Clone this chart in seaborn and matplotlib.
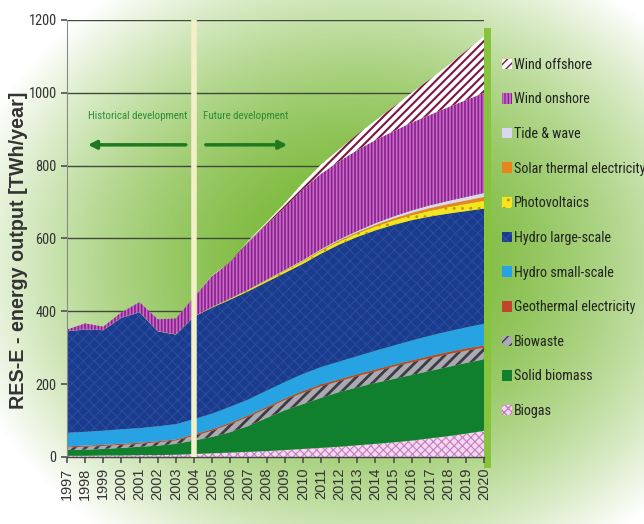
import numpy as np
import pandas as pd
import matplotlib
matplotlib.use("Agg")
import matplotlib.pyplot as plt
import seaborn as sns
from matplotlib.patches import Patch, Rectangle
from matplotlib import font_manager

# Data (TWh/year), stacked bottom -> top
years = list(range(1997, 2021))
biogas = [3, 3, 4, 4, 5, 5, 6, 8, 10, 12, 14, 16, 19, 22, 25, 28, 32, 36, 40, 45, 51, 57, 64, 72]
solid_biomass = [16, 17, 18, 21, 23, 26, 30, 37, 45, 56, 71, 91, 109, 123, 137, 150, 159, 167, 174, 180, 185, 190, 194, 196]
biowaste = [7, 8, 8, 8, 8, 9, 9, 13, 17, 22, 25, 26, 28, 31, 32, 30, 31, 32, 34, 35, 35, 35, 34, 32]
geothermal = [3, 3, 3, 3, 3, 3, 3, 4, 4, 4, 4, 4, 4, 5, 5, 5, 5, 5, 5, 5, 6, 6, 6, 6]
hydro_small = [37, 38, 39, 40, 40, 41, 42, 42, 43, 44, 44, 45, 46, 47, 48, 49, 50, 52, 53, 55, 56, 57, 58, 60]
hydro_large = [279, 281, 276, 306, 318, 261, 246, 281, 291, 294, 297, 298, 299, 302, 311, 321, 327, 330, 331, 330, 327, 323, 319, 316]
photovoltaics = [0.1, 0.1, 0.1, 0.2, 0.3, 0.4, 0.5, 0.7, 1.5, 2.5, 3.5, 4.5, 5.5, 6.5, 7.5, 8.5, 9.5, 11, 12.5, 14, 16, 18, 20, 22]
solar_thermal = [0, 0, 0, 0, 0, 0, 0, 0, 0, 0, 0.3, 0.6, 1, 1.5, 2, 2.5, 3, 4, 5, 6, 7, 8, 9, 10]
tide_wave = [0.5, 0.5, 0.5, 0.5, 0.5, 0.5, 0.5, 0.5, 0.6, 0.8, 1, 1.5, 2, 2.5, 3, 3.5, 4, 5, 6, 7, 8, 9, 10, 11]
wind_onshore = [4, 16, 9, 14, 27, 32, 43, 52, 85, 99, 130, 151, 171, 194, 207, 214, 222, 228, 234, 241, 248, 257, 266, 275]
wind_offshore = [0, 0, 0, 0, 0, 0, 0, 0.5, 1, 2, 4, 7, 12, 18, 25, 33, 43, 54, 67, 82, 98, 115, 135, 155]

labels = ["Biogas", "Solid biomass", "Biowaste", "Geothermal electricity", "Hydro small-scale",
          "Hydro large-scale", "Photovoltaics", "Solar thermal electricity", "Tide & wave",
          "Wind onshore", "Wind offshore"]
df = pd.DataFrame(dict(zip(labels, [biogas, solid_biomass, biowaste, geothermal, hydro_small,
                                    hydro_large, photovoltaics, solar_thermal, tide_wave,
                                    wind_onshore, wind_offshore])), index=years)

# face colour, hatch, hatch colour, hatch linewidth
styles = {
    "Biogas": ("#F3D8EF", "xxxx", "#C57CC0", 0.8),
    "Solid biomass": ("#11802E", "", "#11802E", 1),
    "Biowaste": ("#A9AAB2", "///", "#3C3C44", 2.0),
    "Geothermal electricity": ("#C0452C", "", "#C0452C", 1),
    "Hydro small-scale": ("#27A3E3", "", "#27A3E3", 1),
    "Hydro large-scale": ("#1B3C8E", "xxx", "#2C4E9E", 0.7),
    "Photovoltaics": ("#F6E51E", "..", "#B89A00", 0.8),
    "Solar thermal electricity": ("#E9851E", "", "#E9851E", 1),
    "Tide & wave": ("#DCD6F0", "", "#DCD6F0", 1),
    "Wind onshore": ("#C46CC6", "|||||", "#8D1F8F", 1.2),
    "Wind offshore": ("#FFFFFF", "////", "#7B1742", 1.5),
}

sns.set_theme(style="white")

# pick a condensed face if there is one, otherwise Liberation Sans
avail = {f.name for f in font_manager.fontManager.ttflist}
narrow = next((n for n in ["Liberation Sans Narrow", "Roboto Condensed", "Open Sans Condensed",
                           "Noto Sans Condensed", "DejaVu Sans Condensed", "Arial Narrow"]
               if n in avail), "Liberation Sans")
narrow_fam = [narrow, "DejaVu Sans"]
plain_fam = ["Liberation Sans", "DejaVu Sans"]
plt.rcParams['font.family'] = narrow_fam

fig = plt.figure(figsize=(6.44, 5.24), dpi=100)
renderer = fig.canvas.get_renderer()


def fit_size(s, target_px, family, weight="normal"):
    t = fig.text(0, 0, s, fontsize=10, family=family, fontweight=weight)
    wpx = t.get_window_extent(renderer).width
    t.remove()
    return 10 * target_px / wpx


legend_fs = fit_size("Solar thermal electricity", 131, narrow_fam)
note_fs = fit_size("Historical development", 99, narrow_fam)
ytick_fs = fit_size("1200", 28, narrow_fam)
xtick_fs = fit_size("1997", 32, plain_fam)
ylabel_fs = fit_size("RES-E - energy output [TWh/year]", 317, plain_fam, "bold")

# green gradient background
bg = fig.add_axes([0, 0, 1, 1], zorder=-10)
h, w = 524, 644
yy, xx = np.mgrid[0:h, 0:w]
d = np.sqrt(((xx - 360) / 410) ** 2 + ((yy - 265) / 340) ** 2)
t = np.clip(d, 0, 1)[..., None] ** 1.7
green = np.array([0.45, 0.71, 0.18])
img = green * (1 - t) + np.ones(3) * t
bg.imshow(img, aspect='auto')
bg.axis('off')
# bright green strip along the right edge of the plot
fig.patches.append(Rectangle((484 / w, 1 - 468 / h), 7 / w, 440 / h, transform=fig.transFigure,
                             facecolor="#86C43E", edgecolor="none", zorder=-5))

ax = fig.add_axes([0.104, 0.128, 0.648, 0.834])
ax.patch.set_alpha(0)

cum = df.cumsum(axis=1)
lower = np.zeros(len(years))
for name in labels:
    face, hatch, hc, hlw = styles[name]
    upper = cum[name].values
    with plt.rc_context({'hatch.linewidth': hlw, 'hatch.color': hc}):
        ax.fill_between(years, lower, upper, facecolor=face, edgecolor=hc,
                        hatch=hatch, linewidth=0, zorder=2)
    lower = upper

ax.set_xlim(1997, 2020)
ax.set_ylim(0, 1200)
ax.set_yticks(range(0, 1201, 200))
ax.set_xticks(years)
ax.set_axisbelow(True)
ax.yaxis.grid(True, color="#3E4A3A", linewidth=1.0)
ax.xaxis.grid(False)
ax.tick_params(axis='y', labelsize=ytick_fs, labelcolor="#333333", length=4, color="#555555", left=True)
ax.tick_params(axis='x', labelsize=xtick_fs, labelcolor="#333333", length=4, color="#555555",
               bottom=True, labelrotation=90)
for lab in ax.get_xticklabels():
    lab.set_family(plain_fam)
sns.despine(ax=ax)
ax.spines['left'].set_color("#8A8A8A")
ax.spines['left'].set_linewidth(0.8)
ax.spines['bottom'].set_color("#444444")
ax.spines['bottom'].set_linewidth(1.0)

# divider between historical and future
ax.axvline(2004, color="#F3EFC8", linewidth=4, zorder=5)

ax.text(1998.15, 935, "Historical development", color="#2E8B34", fontsize=note_fs, va='center')
ax.text(2004.5, 935, "Future development", color="#2E8B34", fontsize=note_fs, va='center')
ax.annotate("", xy=(1998.0, 857), xytext=(2003.7, 857),
            arrowprops=dict(arrowstyle="-|>", color="#1F7A1F", lw=2.5, mutation_scale=12))
ax.annotate("", xy=(2009.3, 857), xytext=(2004.5, 857),
            arrowprops=dict(arrowstyle="-|>", color="#1F7A1F", lw=2.5, mutation_scale=12))

fig.text(0.028, 0.523, "RES-E - energy output [TWh/year]", rotation=90, ha='center', va='center',
         fontsize=ylabel_fs, fontweight='bold', color="#333333", family=plain_fam)

handles = []
for name in labels[::-1]:
    face, hatch, hc, hlw = styles[name]
    with plt.rc_context({'hatch.linewidth': min(hlw, 1.5), 'hatch.color': hc}):
        handles.append(Patch(facecolor=face, edgecolor=hc, hatch=hatch, linewidth=0, label=name))
fs_px = legend_fs * 100 / 72
spacing = (36.8 - 1.15 * fs_px) / fs_px
top = 1 - (66 - 0.58 * fs_px) / 524
fig.legend(handles=handles, loc='upper left', bbox_to_anchor=(0.779, top), frameon=False,
           fontsize=legend_fs, handlelength=10 / fs_px, handleheight=11 / fs_px,
           handletextpad=2 / fs_px, labelspacing=spacing, borderpad=0, borderaxespad=0,
           labelcolor="#222222")

fig.savefig("out.png", dpi=100)
